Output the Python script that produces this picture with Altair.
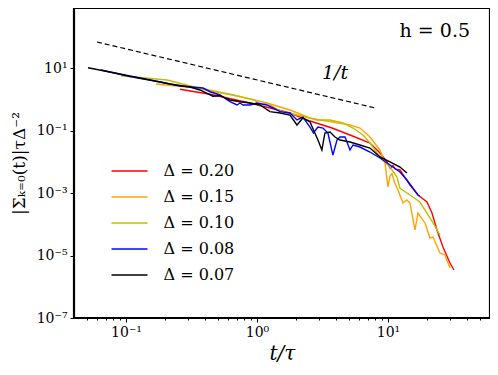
import altair as alt
import pandas as pd

# ---- data ----
deltas = ["0.20", "0.15", "0.10", "0.08", "0.07"]
colors = ["#ff0000", "#ffa500", "#bfbf00", "#0000ff", "#000000"]

red_t = [0.258, 0.438, 0.885, 1.786, 2.54, 3.74, 5.13, 7.29, 8.69, 9.83, 10.4, 10.92, 11.4, 12.35,
         14.72, 16.94, 19.84, 21.68, 23.66, 26.30, 29.74, 31.9]
red_v = [2.08, 1.44, 0.759, 0.363, 0.201, 0.120, 0.0718, 0.0398, 0.0191, 0.00982, 0.0062, 0.0075, 0.0058, 0.00545,
         0.0018, 0.000863, 0.000515, 0.000229, 6.55e-5, 1.87e-5, 5.75e-6, 3.44e-6]

orange_t = [0.169, 0.308, 0.367, 0.656, 1.192, 1.786, 2.54, 3.03, 3.80, 5.13, 6.11, 7.29, 8.69, 9.49,
            10.0, 10.36, 10.73, 11.2, 11.92, 13.02, 13.96, 14.72, 16.08, 16.94, 19.16, 20.92, 22.07,
            24.94, 27.23, 29.74]
orange_v = [3.08, 2.41, 2.29, 1.37, 0.759, 0.453, 0.251, 0.217, 0.187, 0.150, 0.120, 0.0619, 0.0238, 0.00912,
            0.00156, 0.0035, 0.0042, 0.0022, 0.00125, 0.000479, 0.000597, 0.000479, 6.55e-5, 0.000229, 0.00011,
            3.63e-5, 3.91e-5, 1.2e-5, 1.04e-5, 3.98e-6]

yellow_t = [0.0916, 0.206, 0.438, 0.656, 0.965, 1.054, 1.192, 1.498, 2.54, 2.87, 3.61, 4.53, 5.41, 6.45,
            7.29, 8.24, 9.16, 10.36, 11.72, 12.35, 13.96, 15.52, 17.54, 19.84, 22.07, 24.94]
yellow_v = [5.67, 4.13, 1.84, 1.37, 0.946, 0.60, 0.759, 0.42, 0.251, 0.217, 0.217, 0.174, 0.120, 0.0718,
            0.0398, 0.0191, 0.01138, 0.00679, 0.00325, 0.0014, 0.001, 0.000745, 0.000515, 0.000229, 0.00011, 4.53e-5]

blue_t = [0.0644, 0.107, 0.182, 0.258, 0.387, 0.438, 0.522, 0.622, 0.704, 0.742, 0.782, 0.885, 1.0, 1.19,
          1.325, 1.499, 1.786, 2.02, 2.24, 2.54, 2.70, 2.92, 3.19, 3.48, 3.80, 4.08, 4.30, 4.70, 5.13, 5.41,
          6.11, 7.29, 8.69, 10.36, 12.35, 13.96, 16.94, 17.5]
blue_v = [8.63, 5.35, 3.56, 2.65, 2.29, 1.74, 1.37, 0.835, 0.655, 0.759, 0.655, 0.655, 0.759, 0.655,
          0.525, 0.40, 0.363, 0.217, 0.27, 0.129, 0.0832, 0.129, 0.12, 0.0832, 0.0164, 0.0497, 0.0619, 0.0619,
          0.0238, 0.0344, 0.0296, 0.0205, 0.0132, 0.00787, 0.0047, 0.00261, 0.000863, 0.0008]

black_t = [0.0513, 0.0755, 0.107, 0.153, 0.217, 0.308, 0.367, 0.461, 0.522, 0.622, 0.742, 0.885, 1.054,
           1.256, 1.499, 1.786, 2.02, 2.24, 2.54, 2.92, 3.13, 3.30, 3.61, 3.94, 4.30, 5.13, 6.11, 7.29,
           8.69, 10.36, 12.35, 13.96]
black_v = [10.2, 7.45, 5.54, 4.13, 3.08, 2.47, 1.98, 1.25, 1.3, 0.946, 0.835, 0.759, 0.655,
           0.40, 0.363, 0.313, 0.15, 0.251, 0.187, 0.05, 0.0238, 0.0832, 0.0895, 0.0619, 0.0497, 0.0428, 0.0344,
           0.0275, 0.0142, 0.00982, 0.00679, 0.00437]

dash_t = [0.06, 8.1]
dash_v = [68.0, 0.52]

annot_text = ["1/t", "h = 0.5"]
annot_t = [3.94, 42.3]
annot_v = [6.9, 153.0]

x_major = [0.1, 1, 10]
x_minor = [0.05, 0.06, 0.07, 0.08, 0.09, 0.2, 0.3, 0.4, 0.5, 0.6, 0.7, 0.8, 0.9,
           2, 3, 4, 5, 6, 7, 8, 9, 20, 30, 40, 50]
y_ticks = [10, 0.1, 1e-3, 1e-5, 1e-7]

# ---- build table ----
series = [red_t, orange_t, yellow_t, blue_t, black_t]
values = [red_v, orange_v, yellow_v, blue_v, black_v]
rows = []
for d, ts, vs in zip(deltas, series, values):
    for i, (t, v) in enumerate(zip(ts, vs)):
        rows.append({"delta": d, "t": t, "v": v, "i": i})
df = pd.DataFrame(rows)

dash_df = pd.DataFrame({"t": dash_t, "v": dash_v})
annot_df = pd.DataFrame({"label": annot_text, "t": annot_t, "v": annot_v})

FONT = "DejaVu Serif"

xscale = alt.Scale(type="log", domain=[0.0401, 60.1], nice=False)
yscale = alt.Scale(type="log", domain=[1e-7, 832], nice=False)

major_test = "abs(log(datum.value)/LN10 - round(log(datum.value)/LN10)) < 0.001"

xaxis = alt.Axis(
    values=x_major + x_minor,
    labelExpr=("datum.value < 0.15 && datum.value > 0.095 ? '10⁻¹' : "
               "(datum.value > 0.95 && datum.value < 1.05 ? '10⁰' : "
               "(datum.value > 9.5 && datum.value < 10.5 ? '10¹' : ''))"),
    title="t/τ",
    titleFont=FONT, titleFontSize=20, titleFontStyle="italic", titleFontWeight="normal",
    titleColor="black", titlePadding=4,
    labelFont=FONT, labelFontSize=14, labelColor="black", labelPadding=3,
    tickColor="black", tickWidth=1,
    tickSize={"condition": {"test": major_test, "value": 4}, "value": 2},
    domain=False, grid=False, labelFlush=False, labelOverlap=False,
)

yaxis = alt.Axis(
    values=y_ticks,
    labelExpr=("datum.value > 1 ? '10¹' : (datum.value > 0.01 ? '10⁻¹' : "
               "(datum.value > 1e-4 ? '10⁻³' : (datum.value > 1e-6 ? '10⁻⁵' : '10⁻⁷')))"),
    title="|Σₖ₌₀(t)|τΔ⁻²",
    titleFont=FONT, titleFontSize=17, titleFontWeight="normal", titleColor="black", titlePadding=8,
    labelFont=FONT, labelFontSize=14, labelColor="black", labelPadding=3,
    tickColor="black", tickWidth=1, tickSize=4,
    domain=False, grid=False, labelFlush=False, labelOverlap=False,
)

lines = alt.Chart(df).mark_line(strokeWidth=1.4, clip=True).encode(
    x=alt.X("t:Q", scale=xscale, axis=xaxis),
    y=alt.Y("v:Q", scale=yscale, axis=yaxis),
    color=alt.Color(
        "delta:N",
        scale=alt.Scale(domain=deltas, range=colors),
        title=None,
        legend=alt.Legend(
            orient="none", legendX=47.5, legendY=155,
            symbolType="M-3,0H3", symbolSize=144, symbolStrokeWidth=1.5,
            labelFont=FONT, labelFontSize=16, labelColor="black",
            labelExpr="'Δ = ' + datum.label",
            rowPadding=10, labelOffset=26, padding=0,
        ),
    ),
    order="i:Q",
)

dash = alt.Chart(dash_df).mark_line(color="black", strokeDash=[5, 3], strokeWidth=1.2).encode(
    x=alt.X("t:Q", scale=xscale),
    y=alt.Y("v:Q", scale=yscale),
)

annot1 = alt.Chart(annot_df[annot_df["label"] == annot_text[0]]).mark_text(
    font=FONT, fontSize=19, fontStyle="italic", color="black", baseline="middle", align="center"
).encode(x=alt.X("t:Q", scale=xscale), y=alt.Y("v:Q", scale=yscale), text="label:N")

annot2 = alt.Chart(annot_df[annot_df["label"] == annot_text[1]]).mark_text(
    font=FONT, fontSize=19, color="black", baseline="middle", align="right"
).encode(x=alt.X("t:Q", scale=xscale), y=alt.Y("v:Q", scale=yscale), text="label:N")

chart = alt.layer(lines, dash, annot1, annot2).properties(
    width=416, height=310,
    autosize=alt.AutoSizeParams(type="none"),
    padding={"left": 66, "top": 0, "right": 0, "bottom": 50},
    background="white",
).configure_view(stroke="black", strokeWidth=2.2)

chart.save("out.html", embed_options={"renderer": "svg", "actions": False})
